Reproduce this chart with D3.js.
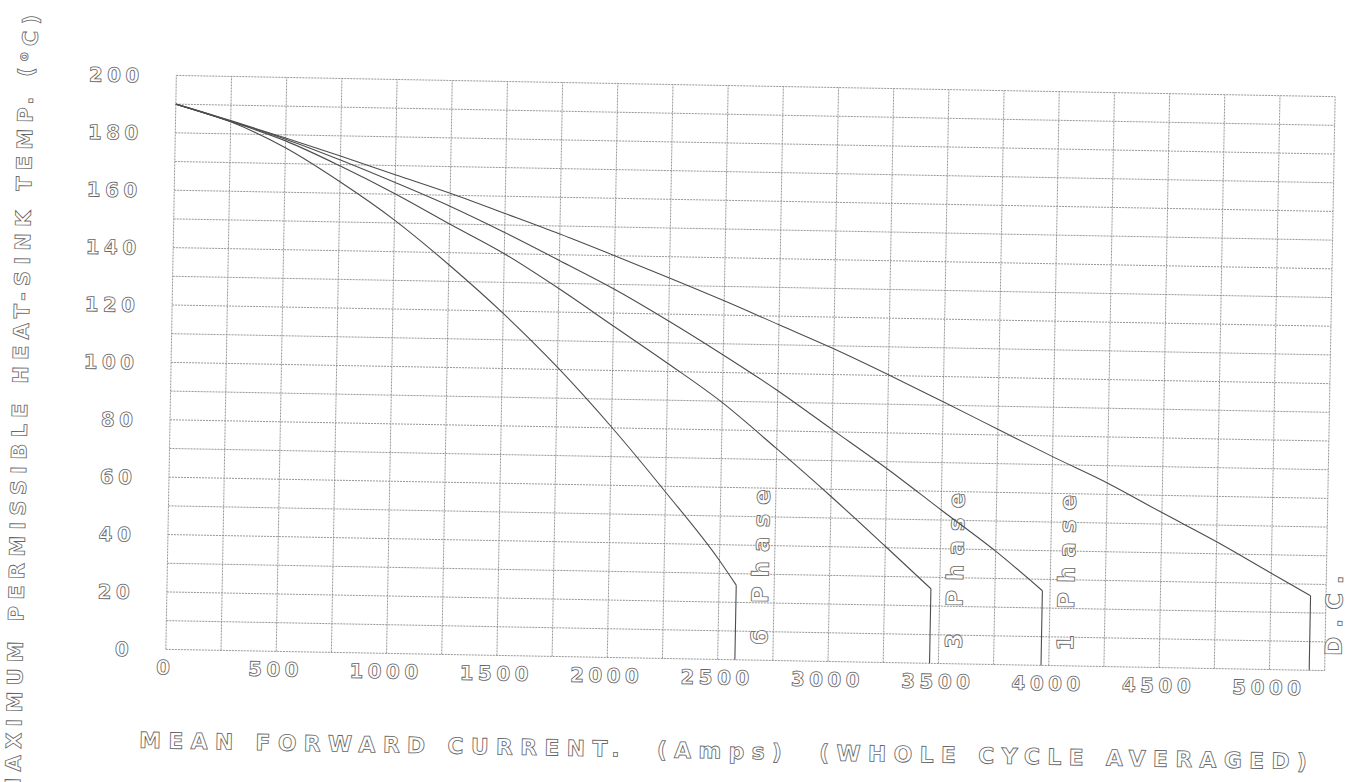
<!DOCTYPE html>
<html>
<head>
<meta charset="utf-8">
<script src="https://cdn.jsdelivr.net/npm/d3@7"></script>
<style>
  html, body { margin: 0; padding: 0; background: #fff; }
  svg { display: block; }
  .lbl { font-family: "DejaVu Sans", "Liberation Sans", sans-serif; font-weight: bold;
         fill: #fff; stroke: #646464; stroke-width: 0.8; }
</style>
</head>
<body>
<svg id="chart" width="1357" height="782"></svg>
<script>
// ---------- data ----------
const xTickValues = [0, 500, 1000, 1500, 2000, 2500, 3000, 3500, 4000, 4500, 5000];
const yTickValues = [0, 20, 40, 60, 80, 100, 120, 140, 160, 180, 200];
const seriesNames = ["6 Phase", "3 Phase", "1 Phase", "D.C."];

const phase6Current = [0, 250, 500, 750, 1000, 1250, 1500, 1750, 2000, 2250, 2500, 2578, 2578];
const phase6Temp    = [190, 184.2, 175.5, 164, 151, 135.8, 119.2, 100.8, 80.3, 58, 34.5, 26, 0];

const phase3Current = [0, 250, 500, 750, 1000, 1250, 1500, 1750, 2000, 2250, 2500, 2750, 3000, 3250, 3460, 3460];
const phase3Temp    = [190, 184.3, 177.9, 169.5, 160.2, 150, 140, 128.2, 115.5, 102.8, 89.5, 73.8, 57.5, 40.5, 26, 0];

const phase1Current = [0, 250, 500, 750, 1000, 1250, 1500, 1750, 2000, 2250, 2500, 2750, 3000, 3250, 3500, 3750, 3965, 3965];
const phase1Temp    = [190, 184.4, 178.5, 171.6, 164.1, 156.2, 147.4, 138, 128.4, 117.6, 106.1, 94, 80.8, 67.6, 53.5, 39.5, 26, 0];

const dcCurrent = [0, 250, 500, 750, 1000, 1250, 1500, 1750, 2000, 2250, 2500, 2750, 3000, 3250, 3500, 3750, 4000, 4250, 4500, 4750, 5000, 5180, 5180];
const dcTemp    = [190, 184.6, 178.9, 173, 166.8, 160.7, 154, 147.2, 140, 132.6, 125, 117, 109, 100.3, 91.2, 82, 72.8, 64, 54, 44.2, 33.6, 26, 0];

const xTitle = "MEAN FORWARD CURRENT.  (Amps)  (WHOLE CYCLE AVERAGED)";
const yTitleMain = "MAXIMUM PERMISSIBLE HEAT-SINK TEMP. (";
const yTitleDeg = "o";
const yTitleEnd = "C)";

// ---------- layout ----------
const X_MAX = 5250, Y_MAX = 200;
const plotLeft = 171, plotTop = 86, plotWidth = 1159, plotHeight = 574;

const svg = d3.select("#chart");
const g = svg.append("g").attr("transform", "rotate(1.05, 750, 373)");

const x = d3.scaleLinear().domain([0, X_MAX]).range([plotLeft, plotLeft + plotWidth]);
const y = d3.scaleLinear().domain([0, Y_MAX]).range([plotTop + plotHeight, plotTop]);

// grid
const gridStyle = s => s.attr("stroke", "#8c8c8c").attr("stroke-width", 0.9)
  .attr("stroke-dasharray", "2 1").attr("fill", "none");

g.append("g").selectAll("line").data(d3.range(0, X_MAX + 1, 250)).join("line")
  .attr("x1", d => x(d)).attr("x2", d => x(d))
  .attr("y1", y(0)).attr("y2", y(Y_MAX)).call(gridStyle);
g.append("g").selectAll("line").data(d3.range(0, Y_MAX + 1, 10)).join("line")
  .attr("y1", d => y(d)).attr("y2", d => y(d))
  .attr("x1", x(0)).attr("x2", x(X_MAX)).call(gridStyle);

// axes (labels only, the plotter style has no tick marks)
const tickLS = 4.4;
const xAxis = d3.axisBottom(x).tickValues(xTickValues).tickSize(0).tickFormat(d3.format("d"));
const xa = g.append("g").attr("transform", `translate(0,${y(0)})`).call(xAxis);
xa.select(".domain").remove();
xa.selectAll("text").attr("class", "lbl").attr("dy", null)
  .attr("y", 25).attr("x", -3 + tickLS / 2)
  .style("font-size", "20px").style("letter-spacing", tickLS + "px");

const yAxis = d3.axisLeft(y).tickValues(yTickValues).tickSize(0).tickFormat(d3.format("d"));
const ya = g.append("g").attr("transform", `translate(${x(0)},0)`).call(yAxis);
ya.select(".domain").remove();
ya.selectAll("text").attr("class", "lbl").attr("dy", "0.36em")
  .attr("x", -(x(0) - 134 - tickLS))
  .style("font-size", "20px").style("letter-spacing", tickLS + "px");

// curves
const series = [
  { name: seriesNames[0], cur: phase6Current, temp: phase6Temp },
  { name: seriesNames[1], cur: phase3Current, temp: phase3Temp },
  { name: seriesNames[2], cur: phase1Current, temp: phase1Temp },
  { name: seriesNames[3], cur: dcCurrent, temp: dcTemp }
];
const smooth = d3.line().x(d => x(d[0])).y(d => y(d[1])).curve(d3.curveMonotoneX);
const straight = d3.line().x(d => x(d[0])).y(d => y(d[1]));

series.forEach(s => {
  const pts = s.cur.map((c, i) => [c, s.temp[i]]);
  const body = pts.slice(0, -1);
  const drop = pts.slice(-2);
  g.append("path").attr("d", smooth(body)).attr("fill", "none")
    .attr("stroke", "#4d4d4d").attr("stroke-width", 1.1).attr("stroke-linejoin", "round");
  g.append("path").attr("d", straight(drop)).attr("fill", "none")
    .attr("stroke", "#4d4d4d").attr("stroke-width", 1.1);
  const endX = x(s.cur[s.cur.length - 1]);
  g.append("text").attr("class", "lbl")
    .attr("transform", `translate(${endX + 32},${y(0) - 15}) rotate(-90)`)
    .attr("text-anchor", "start")
    .style("font-size", "23px").style("letter-spacing", "9px")
    .text(s.name);
});

// axis titles
g.append("text").attr("class", "lbl")
  .attr("x", 146).attr("y", 759)
  .attr("textLength", 1168).attr("lengthAdjust", "spacing")
  .attr("xml:space", "preserve").style("white-space", "pre")
  .style("font-size", "22px")
  .text(xTitle);

const yt = g.append("text").attr("class", "lbl")
  .attr("transform", `translate(28,812) rotate(-90)`)
  .attr("text-anchor", "start")
  .attr("textLength", 784).attr("lengthAdjust", "spacing")
  .style("font-size", "21px");
yt.append("tspan").text(yTitleMain);
yt.append("tspan").attr("dy", "-0.45em").style("font-size", "13px").text(yTitleDeg);
yt.append("tspan").attr("dy", "0.45em").text(yTitleEnd);
</script>
</body>
</html>
